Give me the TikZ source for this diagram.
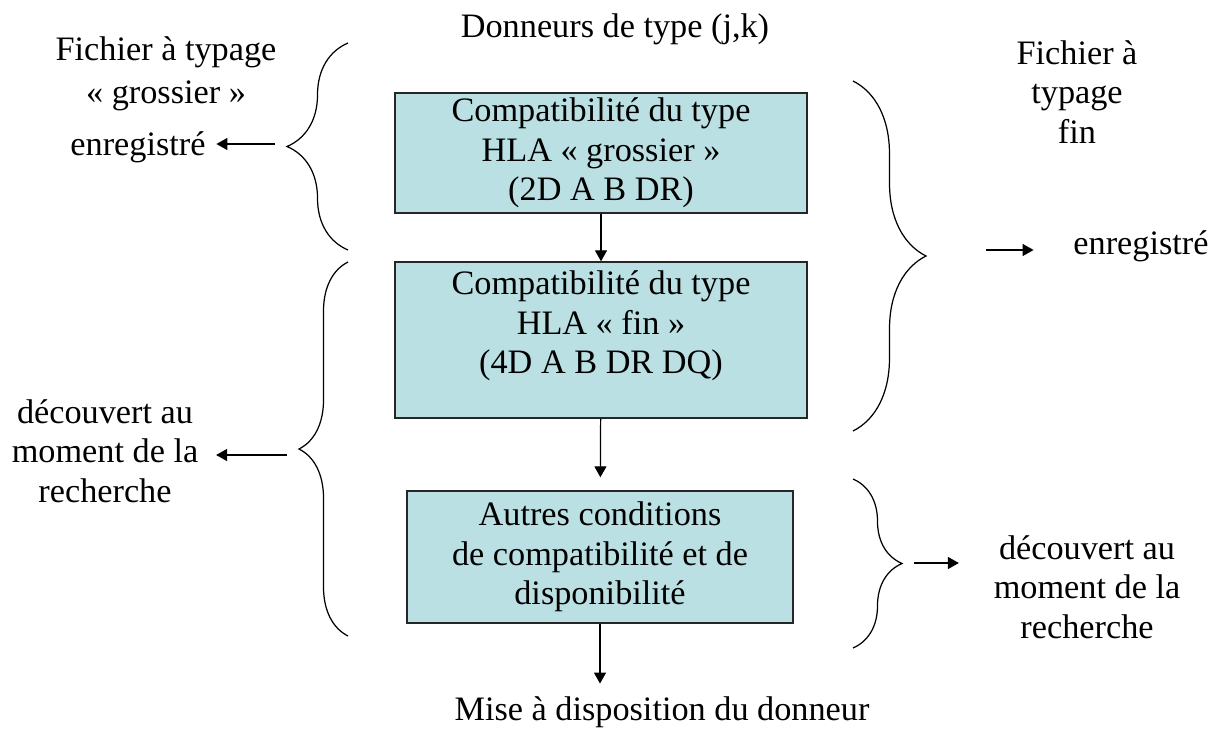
\documentclass[tikz,border=0pt]{standalone}
\usepackage{fontspec}
\setmainfont{Liberation Serif}
\usetikzlibrary{arrows.meta,decorations.pathreplacing,positioning}

\definecolor{hlafill}{HTML}{BBE0E3}
\tikzset{
  boite/.style={draw=black!85,line width=0.8pt,fill=hlafill,align=center,inner sep=2pt},
  lbl/.style={align=center,inner sep=3pt},
  accolade/.style={decorate,decoration={brace,amplitude=#1},line width=0.7pt},
  >={Triangle[length=0.22cm,width=0.24cm]}
}

\begin{document}
\begin{tikzpicture}[x=0.02cm,y=-0.02cm,line width=0.7pt,font=\fontsize{19.5}{22.5}\selectfont]
      \useasboundingbox (0,0) rectangle (1217,730);

      % les trois etapes
      \node[boite,minimum width=8.24cm,minimum height=2.4cm] (grossier) at (601,153)
        {Compatibilité du type\\HLA « grossier »\\(2D A B DR)};
      \node[boite,minimum width=8.24cm,minimum height=3.12cm] (fin) at (601,340) {};
      \node[lbl] (fintxt) at (601,326) {Compatibilité du type\\HLA « fin »\\(4D A B DR DQ)};
      \node[boite,minimum width=7.72cm,minimum height=2.64cm] (autres) at (600,557)
        {Autres conditions\\de compatibilité et de\\disponibilité};

      \node[lbl] (donneurs) at (615,29) {Donneurs de type (j,k)};
      \node[lbl] (mise) at (662,712) {Mise à disposition du donneur};

      % textes a gauche et a droite
      \node[lbl] (fichG) at (166,74) {Fichier à typage\\[2pt]« grossier »};
      \node[lbl] (enrG) at (138,147) {enregistré};
      \node[lbl] (decG) at (105,451) {découvert au\\moment de la\\recherche};
      \node[lbl] (fichF) at (1077,92) {Fichier à\\typage\\fin};
      \node[lbl] (enrF) at (1141,246) {enregistré};
      \node[lbl] (decF) at (1087,587) {découvert au\\moment de la\\recherche};

      % accolades
      \draw[accolade=1.22cm] (348,250) -- (348,43);
      \draw[accolade=0.98cm] (348,636) -- (348,262);
      \draw[accolade=1.46cm] (853,81) -- (853,431);
      \draw[accolade=0.98cm] (853,479) -- (853,648);

      \coordinate (dG1) at (275,144);
      \coordinate (dG2) at (287,455);
      \coordinate (dF1) at (986,250);
      \coordinate (dF2) at (914,563);

      \draw[->] (grossier) -- (fin);
      \draw[->,shorten >=0.26cm] (fin) -- (autres);
      \draw[->,shorten >=0.14cm] (autres.south) -- (autres.south |- mise.north);

      \draw[->,shorten >=0.1cm] (dG1) -- (dG1 -| enrG.east);
      \draw[->,shorten >=0.24cm] (dG2) -- (dG2 -| decG.east);
      \draw[->,shorten >=0.68cm] (dF1) -- (dF1 -| enrF.west);
      \draw[->,shorten >=0.58cm] (dF2) -- (dF2 -| decF.west);
    \end{tikzpicture}
\end{document}
